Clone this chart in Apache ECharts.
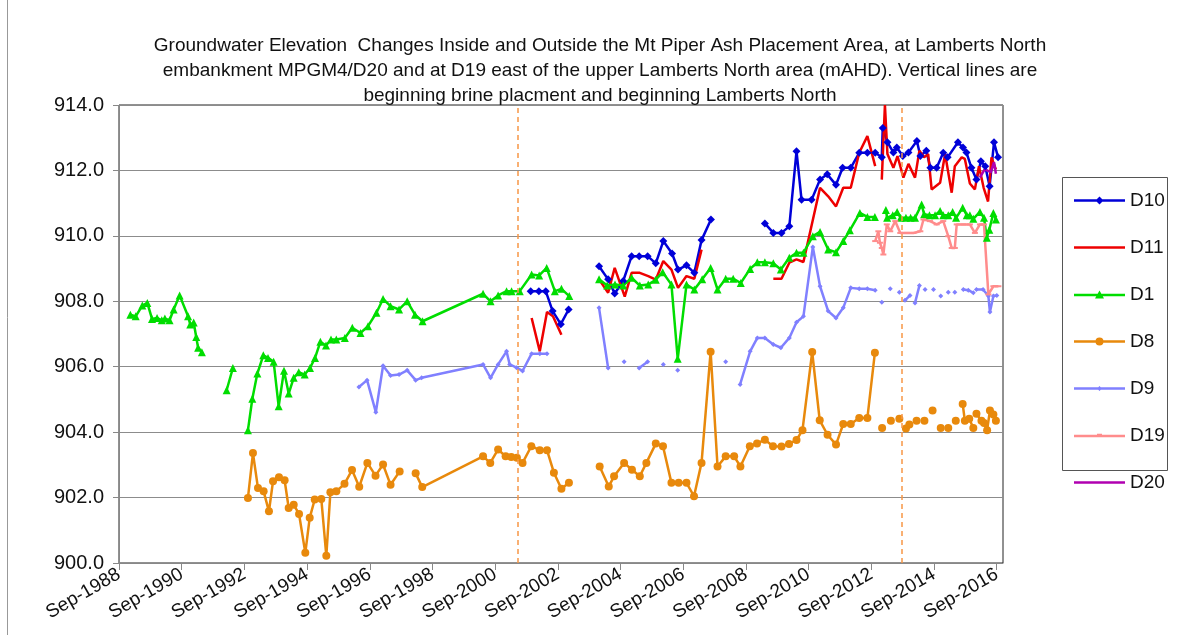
<!DOCTYPE html>
<html>
<head>
<meta charset="utf-8">
<script src="https://cdn.jsdelivr.net/npm/echarts@6/dist/echarts.min.js"></script>
<style>
  html, body { margin: 0; padding: 0; background: #fff; }
  #chart { width: 1182px; height: 635px; }
</style>
</head>
<body>
<div id="chart"></div>
<script>
// x values are decimal years; the axis runs from Sep-1988
const START = 1988 + 8 / 12
const xTickYears = [1988, 1990, 1992, 1994, 1996, 1998, 2000, 2002, 2004, 2006, 2008, 2010, 2012, 2014, 2016]
const verticalLines = [2001.39, 2013.64]

// [decimal year, mAHD], null value = gap in the record
const D10 = [
  [2001.80, 908.31], [2002.06, 908.31], [2002.28, 908.31], [2002.50, 907.70], [2002.76, 907.30], [2003.01, 907.75],
  [2003.50, null],
  [2003.98, 909.07], [2004.27, 908.67], [2004.48, 908.24], [2004.75, 908.62], [2005.02, 909.38], [2005.26, 909.38],
  [2005.53, 909.38], [2005.79, 909.16], [2006.03, 909.84], [2006.31, 909.46], [2006.50, 908.97], [2006.77, 909.10],
  [2007.02, 908.87], [2007.25, 909.87], [2007.55, 910.50],
  [2008.40, null],
  [2009.27, 910.38], [2009.54, 910.09], [2009.80, 910.09], [2010.05, 910.29], [2010.28, 912.59], [2010.44, 911.10],
  [2010.76, 911.10], [2011.03, 911.72], [2011.26, 911.88], [2011.54, 911.56], [2011.75, 912.08], [2012.01, 912.08],
  [2012.28, 912.54], [2012.54, 912.54], [2012.79, 912.54], [2013.00, 912.40], [2013.03, 913.30], [2013.18, 912.86],
  [2013.37, 912.55], [2013.48, 912.70], [2013.67, 912.44], [2013.85, 912.55], [2014.12, 912.90], [2014.23, 912.44],
  [2014.42, 912.60], [2014.55, 912.08], [2014.75, 912.08], [2014.96, 912.54], [2015.10, 912.40], [2015.43, 912.86],
  [2015.59, 912.70], [2015.70, 912.55], [2015.86, 912.08], [2016.02, 911.72], [2016.16, 912.28], [2016.30, 912.13],
  [2016.44, 911.52], [2016.58, 912.86], [2016.71, 912.40]
]
const D11 = [
  [2001.83, 907.49], [2002.09, 906.47], [2002.32, 907.67], [2002.51, 907.54], [2002.78, 906.98],
  [2003.50, null],
  [2003.98, 908.67], [2004.27, 908.26], [2004.48, 909.02], [2004.80, 908.14], [2005.02, 908.87], [2005.28, 908.87],
  [2005.55, 908.77], [2005.79, 908.66], [2006.03, 909.23], [2006.29, 908.97], [2006.50, 908.41], [2006.77, 908.77],
  [2007.02, 908.69], [2007.25, 909.58],
  [2008.40, null],
  [2009.54, 908.69], [2009.80, 908.69], [2010.05, 909.18], [2010.28, 909.28], [2010.50, 909.20], [2011.03, 911.47],
  [2011.29, 911.21], [2011.54, 910.90], [2011.77, 911.47], [2012.01, 911.47], [2012.28, 912.54], [2012.54, 913.05],
  [2012.79, 912.13],
  [2012.90, null],
  [2013.00, 911.72], [2013.10, 914.00], [2013.18, 912.50], [2013.37, 912.08], [2013.50, 912.44], [2013.69, 911.78],
  [2013.85, 912.20], [2014.06, 911.78], [2014.20, 912.60], [2014.35, 912.40], [2014.48, 912.50], [2014.59, 911.42],
  [2014.86, 911.62], [2015.02, 912.50], [2015.23, 911.32], [2015.33, 912.13], [2015.55, 912.40], [2015.65, 912.35],
  [2015.81, 911.60], [2015.97, 911.42], [2016.10, 912.13], [2016.25, 911.47], [2016.39, 911.05], [2016.50, 912.40],
  [2016.64, 912.03]
]
const D1 = [
  [1989.03, 907.59], [1989.20, 907.54], [1989.41, 907.87], [1989.57, 907.95], [1989.72, 907.46], [1989.88, 907.49],
  [1990.03, 907.42], [1990.13, 907.47], [1990.28, 907.42], [1990.41, 907.75], [1990.60, 908.18], [1990.87, 907.54],
  [1990.94, 907.29], [1991.05, 907.35], [1991.13, 906.91], [1991.19, 906.58], [1991.31, 906.44],
  [1991.70, null],
  [1992.10, 905.28], [1992.30, 905.96],
  [1992.50, null],
  [1992.78, 904.06], [1992.92, 905.02], [1993.08, 905.79], [1993.27, 906.35], [1993.42, 906.27], [1993.60, 906.15],
  [1993.76, 904.79], [1993.93, 905.88], [1994.08, 905.18], [1994.24, 905.66], [1994.40, 905.83], [1994.59, 905.76],
  [1994.76, 905.96], [1994.92, 906.27], [1995.09, 906.76], [1995.27, 906.65], [1995.43, 906.83], [1995.60, 906.83],
  [1995.87, 906.88], [1996.11, 907.19], [1996.37, 907.03], [1996.61, 907.24], [1996.88, 907.65], [1997.09, 908.07],
  [1997.33, 907.85], [1997.60, 907.75], [1997.86, 908.00], [1998.11, 907.59], [1998.35, 907.39], [2000.28, 908.23],
  [2000.52, 908.00], [2000.76, 908.18], [2001.03, 908.31], [2001.19, 908.31], [2001.45, 908.31], [2001.83, 908.82],
  [2002.07, 908.79], [2002.31, 909.02], [2002.57, 908.31], [2002.78, 908.38], [2003.03, 908.16],
  [2003.50, null],
  [2003.98, 908.67], [2004.24, 908.48], [2004.49, 908.51], [2004.75, 908.48], [2005.02, 908.72], [2005.28, 908.48],
  [2005.55, 908.51], [2005.79, 908.66], [2006.01, 908.89], [2006.29, 908.51], [2006.49, 906.24], [2006.77, 908.51],
  [2007.02, 908.36], [2007.27, 908.67], [2007.54, 909.02], [2007.76, 908.36], [2008.02, 908.69], [2008.26, 908.69],
  [2008.50, 908.56], [2008.80, 908.99], [2009.03, 909.19], [2009.27, 909.19], [2009.54, 909.16], [2009.78, 908.97],
  [2010.05, 909.33], [2010.28, 909.48], [2010.50, 909.48], [2010.80, 909.99], [2011.03, 910.12], [2011.29, 909.58],
  [2011.54, 909.50], [2011.77, 909.84], [2011.98, 910.17], [2012.30, 910.70], [2012.54, 910.58], [2012.78, 910.58],
  [2012.95, null],
  [2013.13, 910.79], [2013.17, 910.55], [2013.35, 910.63], [2013.49, 910.73], [2013.60, 910.55], [2013.77, 910.55],
  [2013.92, 910.55], [2014.06, 910.55], [2014.27, 910.96], [2014.35, 910.66], [2014.52, 910.63], [2014.70, 910.63],
  [2014.86, 910.76], [2014.96, 910.63], [2015.12, 910.63], [2015.26, 910.73], [2015.37, 910.55], [2015.58, 910.86],
  [2015.71, 910.63], [2015.81, 910.63], [2015.92, 910.52], [2016.13, 910.73], [2016.26, 910.55], [2016.35, 909.94],
  [2016.43, 910.19], [2016.56, 910.70], [2016.64, 910.50]
]
const D8 = [
  [1992.78, 901.99], [1992.94, 903.36], [1993.10, 902.29], [1993.28, 902.19], [1993.45, 901.58], [1993.58, 902.50],
  [1993.77, 902.62], [1993.95, 902.53], [1994.08, 901.68], [1994.24, 901.78], [1994.41, 901.50], [1994.61, 900.31],
  [1994.75, 901.38], [1994.91, 901.94], [1995.12, 901.96], [1995.28, 900.22], [1995.41, 902.16], [1995.60, 902.19],
  [1995.86, 902.42], [1996.10, 902.84], [1996.33, 902.33], [1996.59, 903.06], [1996.85, 902.67], [1997.09, 903.01],
  [1997.33, 902.39], [1997.62, 902.80],
  [1997.90, null],
  [1998.13, 902.74], [1998.34, 902.32], [2000.28, 903.26], [2000.51, 903.06], [2000.76, 903.47], [2001.00, 903.26],
  [2001.18, 903.24], [2001.36, 903.22], [2001.54, 903.06], [2001.82, 903.57], [2002.09, 903.45], [2002.32, 903.45],
  [2002.54, 902.76], [2002.78, 902.27], [2003.02, 902.45],
  [2003.50, null],
  [2004.00, 902.95], [2004.29, 902.34], [2004.46, 902.65], [2004.78, 903.06], [2005.03, 902.85], [2005.28, 902.65],
  [2005.49, 903.06], [2005.79, 903.65], [2006.02, 903.57], [2006.29, 902.45], [2006.52, 902.45], [2006.77, 902.45],
  [2007.01, 902.04], [2007.25, 903.06], [2007.54, 906.46], [2007.76, 902.95], [2008.02, 903.26], [2008.29, 903.26],
  [2008.49, 902.95], [2008.79, 903.57], [2009.02, 903.65], [2009.27, 903.77], [2009.53, 903.57], [2009.80, 903.56],
  [2010.04, 903.64], [2010.28, 903.76], [2010.47, 904.06], [2010.78, 906.45], [2011.02, 904.36], [2011.27, 903.92],
  [2011.54, 903.62], [2011.77, 904.25], [2012.01, 904.25], [2012.28, 904.43], [2012.54, 904.43], [2012.78, 906.43],
  [2012.90, null], [2013.01, 904.13], [2013.15, null], [2013.29, 904.35], [2013.42, null], [2013.56, 904.41],
  [2013.66, null], [2013.77, 904.11], [2013.88, 904.23], [2014.00, null], [2014.11, 904.35], [2014.24, null],
  [2014.36, 904.35], [2014.50, null], [2014.62, 904.66], [2014.75, null], [2014.88, 904.13], [2015.00, null],
  [2015.12, 904.13], [2015.24, null], [2015.36, 904.35], [2015.47, null], [2015.58, 904.86], [2015.65, 904.35],
  [2015.79, 904.41], [2015.92, 904.13], [2015.97, null], [2016.02, 904.56], [2016.18, 904.35], [2016.26, 904.28],
  [2016.36, 904.06], [2016.45, 904.66], [2016.56, 904.54], [2016.64, 904.35]
]
const D9 = [
  [1996.32, 905.38], [1996.58, 905.59], [1996.86, 904.61], [1997.09, 906.03], [1997.33, 905.73], [1997.60, 905.76],
  [1997.86, 905.89], [1998.13, 905.59], [1998.32, 905.66], [2000.28, 906.07], [2000.52, 905.66], [2000.76, 906.07],
  [2001.03, 906.47], [2001.13, 906.07], [2001.35, 905.97], [2001.54, 905.87], [2001.83, 906.40], [2002.09, 906.40],
  [2002.32, 906.40],
  [2003.50, null],
  [2003.98, 907.80], [2004.27, 905.96], [2004.50, null], [2004.78, 906.15], [2005.00, null], [2005.26, 905.96],
  [2005.53, 906.15], [2005.80, null], [2006.03, 906.07], [2006.25, null], [2006.49, 905.89], [2007.20, null],
  [2008.02, 906.15], [2008.25, null],
  [2008.48, 905.46], [2008.80, 906.47], [2009.03, 906.88], [2009.27, 906.88], [2009.54, 906.68], [2009.78, 906.58],
  [2010.05, 906.88], [2010.28, 907.36], [2010.50, 907.54], [2010.80, 909.66], [2011.03, 908.46], [2011.29, 907.70],
  [2011.54, 907.49], [2011.77, 907.80], [2012.01, 908.41], [2012.28, 908.38], [2012.54, 908.38], [2012.79, 908.34],
  [2012.90, null], [2013.00, 907.97], [2013.13, null], [2013.27, 908.38], [2013.42, null], [2013.56, 908.28],
  [2013.65, null], [2013.74, 908.03], [2013.90, 908.18], [2013.98, null], [2014.06, 907.95], [2014.20, 908.48],
  [2014.29, null], [2014.38, 908.36], [2014.52, null], [2014.65, 908.36], [2014.77, null], [2014.88, 908.16],
  [2015.00, null], [2015.12, 908.28], [2015.22, null], [2015.33, 908.28], [2015.46, null], [2015.60, 908.36],
  [2015.76, 908.34], [2015.92, 908.26], [2015.97, null], [2016.02, 908.36], [2016.23, 908.36], [2016.40, 908.16],
  [2016.45, 907.67], [2016.56, 908.16], [2016.67, 908.18]
]
const D19 = [
  [2012.79, 909.84], [2012.89, 910.14], [2012.94, 909.79], [2013.00, 909.63], [2013.05, 909.43], [2013.16, 910.35],
  [2013.27, 910.14], [2013.43, 910.45], [2013.59, 910.09], [2013.80, 910.09], [2014.01, 910.09], [2014.23, 910.14],
  [2014.33, 910.50], [2014.54, 910.45], [2014.75, 910.35], [2014.96, 910.45], [2015.12, 909.99], [2015.23, 909.63],
  [2015.33, 909.63], [2015.39, 910.35], [2015.60, 910.35], [2015.81, 910.35], [2015.97, 910.09], [2016.13, 910.35],
  [2016.26, 910.35], [2016.40, 908.21], [2016.56, 908.46], [2016.72, 908.46]
]
const D20 = [
  [2016.13, 911.78], [2016.28, 912.03], [2016.48, 911.95], [2016.58, 912.25], [2016.64, 911.90]
]

const FONT = '"Liberation Sans", Arial, sans-serif'

// legend keys: a 51px line with the marker drawn in the middle
const BAR = 'M0,-1.25H51V1.25H0Z'
const legendIcons = {
  D10: 'path://' + BAR + 'M25.5,-4L29.5,0L25.5,4L21.5,0Z',
  D11: 'path://' + BAR,
  D1: 'path://' + BAR + 'M25.5,-4.5L30,3.5L21,3.5Z',
  D8: 'path://' + BAR + 'M21.5,0A4,4 0 1,1 29.5,0A4,4 0 1,1 21.5,0Z',
  D9: 'path://' + BAR + 'M25.5,-2.5L28,0L25.5,2.5L23,0Z',
  D19: 'path://' + BAR + 'M23,-2.2H28V1.25H23Z',
  D20: 'path://' + BAR,
}

function toPoints(rows) {
  return rows.map(([t, v]) => [t - START, v == null ? '-' : v])
}

function lineSeries(name, rows, color, symbol, symbolSize, extra) {
  return Object.assign({
    name,
    type: 'line',
    data: toPoints(rows),
    connectNulls: false,
    showSymbol: symbol !== 'none',
    symbol,
    symbolSize,
    lineStyle: { color, width: 2.5 },
    itemStyle: { color },
    emphasis: { disabled: true },
  }, extra || {})
}

const tickValues = xTickYears.map(y => y - 1988)

const chart = echarts.init(document.getElementById('chart'), null, { renderer: 'canvas' })

const series = [
  lineSeries('D10', D10, '#0000d8', 'diamond', 8, {
    markLine: {
      silent: true,
      symbol: ['none', 'none'],
      label: { show: false },
      lineStyle: { color: '#f79646', type: [5, 4], width: 1.5 },
      data: verticalLines.map(t => ({ xAxis: t - START })),
    },
  }),
  lineSeries('D11', D11, '#ee0000', 'none', 0),
  lineSeries('D1', D1, '#00dd00', 'triangle', 8),
  lineSeries('D8', D8, '#e8890c', 'circle', 8),
  lineSeries('D9', D9, '#8080ff', 'diamond', 5),
  lineSeries('D19', D19, '#ff8c8c', 'rect', [6, 2]),
  lineSeries('D20', D20, '#b000b0', 'none', 0),
]

chart.setOption({
  animation: false,
  backgroundColor: '#fff',
  textStyle: { fontFamily: FONT },
  grid: {
    left: 119, top: 105, width: 884, height: 458,
    show: true, borderColor: '#222', borderWidth: 1,
  },
  xAxis: {
    type: 'value',
    min: 0,
    max: 28.2,
    axisLine: { show: true, lineStyle: { color: '#888', width: 1 } },
    axisTick: { show: true, length: 7, customValues: tickValues, lineStyle: { color: '#888' } },
    axisLabel: {
      customValues: tickValues,
      rotate: 30,
      margin: 10,
      color: '#111',
      fontSize: 19,
      fontFamily: FONT,
      formatter: v => 'Sep-' + (1988 + Math.round(v)),
    },
    splitLine: { show: false },
  },
  yAxis: {
    type: 'value',
    min: 900,
    max: 914,
    interval: 2,
    axisLine: { show: true, lineStyle: { color: '#888', width: 1 } },
    axisTick: { show: true, length: 6, lineStyle: { color: '#888' } },
    axisLabel: {
      color: '#111',
      fontSize: 20,
      margin: 15,
      fontFamily: FONT,
      formatter: v => v.toFixed(1),
    },
    splitLine: { show: true, lineStyle: { color: '#8c8c8c', width: 1 } },
  },
  legend: {
    orient: 'vertical',
    left: 1074,
    top: 191,
    padding: 0,
    itemWidth: 51,
    itemHeight: 14,
    itemGap: 28,
    symbolKeepAspect: true,
    selectedMode: false,
    itemStyle: { borderWidth: 0 },
    textStyle: { fontSize: 19, color: '#111', fontFamily: FONT },
    data: series.map(s => ({ name: s.name, icon: legendIcons[s.name] })),
  },
  graphic: [
    {
      type: 'rect',
      shape: { x: 1062.5, y: 177.5, width: 105, height: 293 },
      style: { fill: 'none', stroke: '#555', lineWidth: 1 },
      silent: true,
    },
    {
      type: 'line',
      shape: { x1: 7.5, y1: 0, x2: 7.5, y2: 635 },
      style: { stroke: '#999', lineWidth: 1 },
      silent: true,
    },
    {
      type: 'text',
      x: 600,
      y: 33,
      silent: true,
      style: {
        text: 'Groundwater Elevation  Changes Inside and Outside the Mt Piper Ash Placement Area, at Lamberts North\n' +
          'embankment MPGM4/D20 and at D19 east of the upper Lamberts North area (mAHD). Vertical lines are\n' +
          'beginning brine placment and beginning Lamberts North',
        font: '19px ' + FONT,
        fill: '#111',
        align: 'center',
        verticalAlign: 'top',
        lineHeight: 25,
      },
    },
  ],
  series,
})
</script>
</body>
</html>
